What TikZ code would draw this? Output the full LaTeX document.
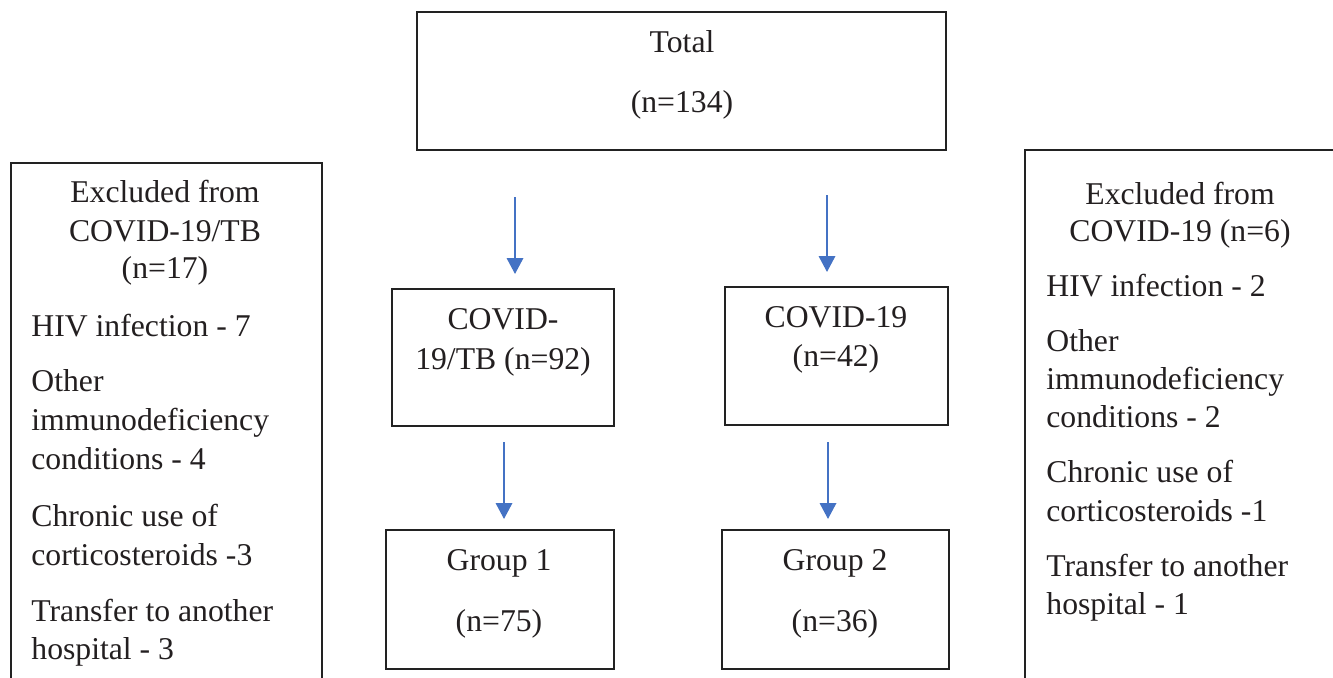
\documentclass[tikz,border=0pt]{standalone}
\usepackage{fontspec}
\setmainfont{Liberation Serif}[Ligatures=NoCommon]
\usetikzlibrary{arrows.meta}
\definecolor{ink}{HTML}{231F20}
\definecolor{boxline}{HTML}{222222}
\definecolor{arrowblue}{HTML}{4472C4}
\tikzset{
  x=0.5pt, y=-0.5pt,
  flowbox/.style={draw=boxline, line width=1.2pt, rectangle, inner sep=0pt, anchor=north west},
  txt/.style={text=ink, inner sep=0pt, font=\fontsize{15.85}{19.5}\selectfont},
  flowarrow/.style={draw=arrowblue, line width=1.1pt, -{Triangle[length=8pt,width=8.2pt]}}
}
\begin{document}
\begin{tikzpicture}
\useasboundingbox (0,0) rectangle (1333,677);
\clip (0,0) rectangle (1333,677);
\fill[white] (0,0) rectangle (1333,677);
% boxes
\node[flowbox, minimum width=264.5pt, minimum height=69pt] (total) at (416,11) {};
\node[flowbox, minimum width=111pt, minimum height=68.5pt] (covtb) at (391,288) {};
\node[flowbox, minimum width=111.5pt, minimum height=69pt] (cov) at (724,286) {};
\node[flowbox, minimum width=114pt, minimum height=69.5pt] (g1) at (385,529) {};
\node[flowbox, minimum width=113.5pt, minimum height=69.5pt] (g2) at (721,529) {};
\node[flowbox, minimum width=155.5pt, minimum height=300pt] (exl) at (9.5,162) {};
\node[flowbox, minimum width=200pt, minimum height=300pt] (exr) at (1024,149) {};
% texts: total and middle
\node[txt, anchor=base] (t1) at (682,52.5) {Total};
\node[txt, anchor=base] (t2) at (682,112.5) {(n=134)};
\node[txt, anchor=base] (c1) at (503,329) {COVID-};
\node[txt, anchor=base] (c2) at (503,369) {19/TB (n=92)};
\node[txt, anchor=base] (d1) at (836,327.5) {COVID-19};
\node[txt, anchor=base] (d2) at (836,366) {(n=42)};
\node[txt, anchor=base] (g1a) at (499,570) {Group 1};
\node[txt, anchor=base] (g1b) at (499,631) {(n=75)};
\node[txt, anchor=base] (g2a) at (835,570) {Group 2};
\node[txt, anchor=base] (g2b) at (835,631) {(n=36)};
% left excluded box
\foreach \yy/\tt [count=\i] in {202.5/{Excluded from},241.5/{COVID-19/TB},278/{(n=17)}}
  \node[txt, anchor=base] (lh\i) at (165,\yy) {\tt};
\foreach \yy/\tt [count=\i] in {336/{HIV infection - 7},391.5/{Other},430/{immunodeficiency},469/{conditions - 4},526/{Chronic use of},565/{corticosteroids -3},621/{Transfer to another},659/{hospital - 3}}
  \node[txt, anchor=base west] (ll\i) at (31,\yy) {\tt};
% right excluded box
\foreach \yy/\tt [count=\i] in {204/{Excluded from},241/{COVID-19 (n=6)}}
  \node[txt, anchor=base] (rh\i) at (1180,\yy) {\tt};
\foreach \yy/\tt [count=\i] in {296/{HIV infection - 2},351/{Other},389/{immunodeficiency},427.5/{conditions - 2},482.5/{Chronic use of},521/{corticosteroids -1},576/{Transfer to another},614/{hospital - 1}}
  \node[txt, anchor=base west] (rl\i) at (1046,\yy) {\tt};
% arrows
\coordinate (a1s) at (515,197); \coordinate (a1e) at (515,274);
\coordinate (a2s) at (827,195); \coordinate (a2e) at (827,272);
\coordinate (a3s) at (504,442); \coordinate (a3e) at (504,519);
\coordinate (a4s) at (828,442); \coordinate (a4e) at (828,519);
\draw[flowarrow] (a1s) -- (a1e);
\draw[flowarrow] (a2s) -- (a2e);
\draw[flowarrow] (a3s) -- (a3e);
\draw[flowarrow] (a4s) -- (a4e);
\end{tikzpicture}
\end{document}
